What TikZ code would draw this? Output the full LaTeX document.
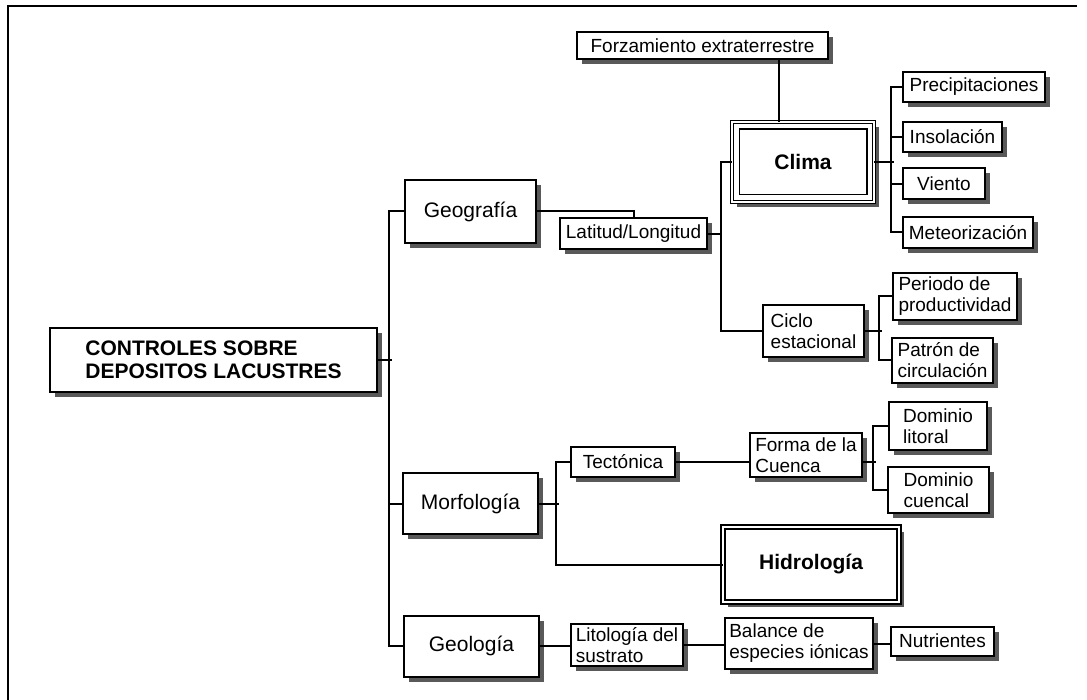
\documentclass[tikz,border=0pt]{standalone}
\usepackage{fontspec}
\setmainfont{Liberation Sans}
\usepackage{tikz}
\usetikzlibrary{shadows,calc,positioning}
\newcommand\letra{\fontsize{19}{21}\selectfont}
\newcommand\letrag{\fontsize{21}{23}\selectfont}
\newcommand\letrab{\fontsize{21}{23}\selectfont\bfseries}
\tikzset{
  caja/.style={draw,line width=2pt,fill=white,inner sep=0pt,align=left,font=\letra,
    drop shadow={shadow xshift=5pt,shadow yshift=-5pt,fill=black!72,opacity=.9}},
  cajag/.style={caja,font=\letrag},
  cajab/.style={caja,font=\letrab},
  rama/.style={line width=2pt,line cap=rect},
  marco/.style={line width=1.4pt}
}
\begin{document}
\begin{tikzpicture}[x=1pt,y=-1pt]
\useasboundingbox (0,0) rectangle (1087,700);
\draw[marco] (8,700) -- (8,6) -- (1077,6);

\node[cajab,minimum width=327pt,minimum height=64pt] (ctrl) at (213.5,360) {CONTROLES SOBRE\\DEPOSITOS LACUSTRES};
\node[cajag,minimum width=131pt,minimum height=63pt] (geog) at (470.5,211.5) {Geografía};
\node[cajag,minimum width=135pt,minimum height=61pt] (morf) at (470.5,503.5) {Morfología};
\node[cajag,minimum width=135pt,minimum height=61pt] (geol) at (471.5,646) {Geología};

\node[caja,minimum width=147pt,minimum height=31pt] (lat) at (633.5,234) {Latitud/Longitud};
\node[caja,minimum width=251pt,minimum height=27pt] (forz) at (702.5,45.5) {Forzamiento extraterrestre};
\node[cajab,minimum width=142pt,minimum height=80pt,double,double distance=2pt,line width=1.4pt] (clima) at (803,162) {Clima};
\draw[line width=1.6pt] ([shift={(8,8)}]clima.north west) rectangle ([shift={(-8,-8)}]clima.south east);

\node[caja,minimum width=142pt,minimum height=30pt] (prec) at (974,87) {Precipitaciones};
\node[caja,minimum width=99pt,minimum height=30pt] (inso) at (952.5,137) {Insolación};
\node[caja,minimum width=82pt,minimum height=31pt] (vien) at (944,184) {Viento};
\node[caja,minimum width=130pt,minimum height=31pt] (mete) at (968,232.5) {Meteorización};

\node[caja,minimum width=101pt,minimum height=52pt] (ciclo) at (813.5,331) {Ciclo\\estacional};
\node[caja,minimum width=124pt,minimum height=47pt] (peri) at (955,296.5) {Periodo de\\productividad};
\node[caja,minimum width=101pt,minimum height=45pt] (patr) at (942.5,360.5) {Patrón de\\circulación};

\node[caja,minimum width=104pt,minimum height=30pt] (tect) at (623,462) {Tectónica};
\node[caja,minimum width=112pt,minimum height=44pt] (forma) at (806,455) {Forma de la\\Cuenca};
\node[caja,minimum width=98pt,minimum height=48pt] (doml) at (938,426) {Dominio\\litoral};
\node[caja,minimum width=101pt,minimum height=46pt] (domc) at (938.5,490) {Dominio\\cuencal};
\node[cajab,minimum width=176pt,minimum height=75pt,double,double distance=2.5pt,line width=1.4pt] (hidro) at (811,564.5) {Hidrología};

\node[caja,minimum width=112pt,minimum height=42pt] (lito) at (627,645) {Litología del\\sustrato};
\node[caja,minimum width=148pt,minimum height=51pt] (bal) at (799,643.5) {Balance de\\especies iónicas};
\node[caja,minimum width=103pt,minimum height=29pt] (nutr) at (942.5,641) {Nutrientes};

\draw[rama] (ctrl.east) -- ++(13,0);
\draw[rama] (geog.west) -- ++(-15,0) |- (geol.west);
\draw[rama] (morf.west) -- ++(-13,0);

\draw[rama] (geog.east) -| (lat.north);
\coordinate (v1) at ([xshift=-10pt]clima.west);
\draw[rama] (clima.west) -- (v1) |- (ciclo.west);
\draw[rama] (lat.east) -- (lat.east -| v1);
\draw[rama] ([xshift=-24pt]clima.north) -- ([xshift=-24pt]clima.north |- forz.south);

\draw[rama] (clima.east) -- ++(18,0);
\draw[rama] (prec.west) -- ++(-11,0) |- (mete.west);
\draw[rama] (inso.west) -- ++(-11,0);
\draw[rama] (vien.west) -- ++(-11,0);

\draw[rama] (ciclo.east) -- ++(16,0);
\draw[rama] (peri.west) -- ++(-13,0) |- (patr.west);

\draw[rama] (morf.east) -- ++(19,0);
\draw[rama] (tect.west) -- ++(-14,0) |- (hidro.west);
\draw[rama] (tect.east) -- (tect.east -| forma.west);
\draw[rama] (forma.east |- tect.east) -- ++(12,0);
\draw[rama] (doml.west) -- ++(-15,0) |- (domc.west);

\draw[rama] (geol.east) -- (geol.east -| lito.west);
\draw[rama] (lito.east) -- (lito.east -| bal.west);
\draw[rama] (bal.east) -- (bal.east -| nutr.west);
\end{tikzpicture}
\end{document}
